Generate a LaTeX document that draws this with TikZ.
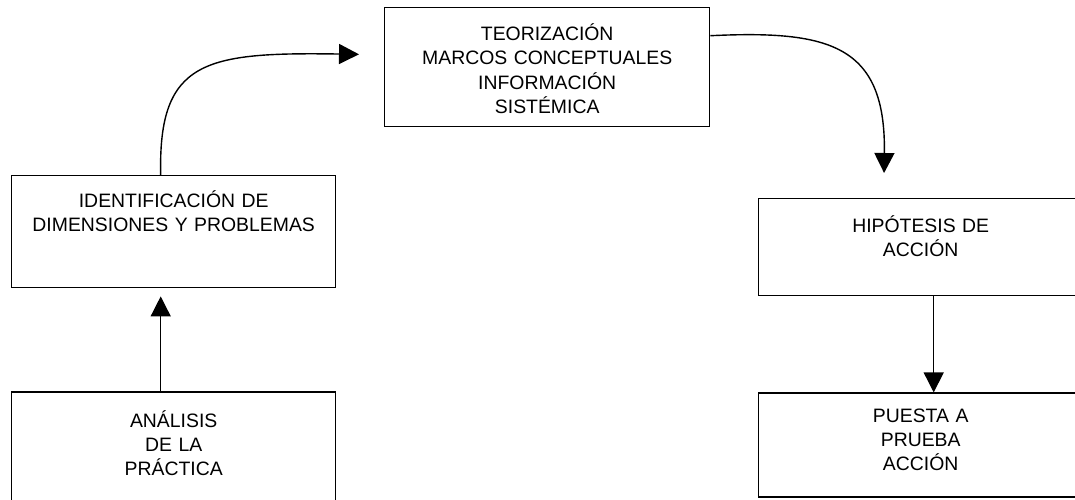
\documentclass[tikz,border=0pt]{standalone}
\usepackage{fontspec}
\setmainfont{Liberation Sans}
\usepackage{tikz}
\usetikzlibrary{arrows.meta,positioning}

\begin{document}
\begin{tikzpicture}[
        x=0.5pt, y=-0.5pt,
        box/.style={draw, line width=0.7pt, inner sep=0pt, align=center,
                    text width=162pt, font=\fontsize{9.7}{12.1}\selectfont,
                    anchor=north west},
        arr/.style={-{Triangle[length=10pt,width=10pt]}, line width=0.7pt},
    ]
        \useasboundingbox (0,0) rectangle (1075,499);
        \clip (0,0) rectangle (1075,499);

        \node[box, text width=162.5pt, text height=16.5pt, text depth=43pt] (teo) at (384,7)
            {TEORIZACIÓN\\MARCOS CONCEPTUALES\\INFORMACIÓN\\SISTÉMICA};
        \node[box, text height=16pt, text depth=40pt] (ide) at (11,175)
            {IDENTIFICACIÓN DE\\DIMENSIONES Y PROBLEMAS};
        \node[box, text height=17.5pt, text depth=42.5pt, below=51.5pt of ide] (ana)
            {ANÁLISIS\\DE LA\\PRÁCTICA};
        \node[box, text height=17pt, text depth=31.5pt] (hip) at (758,198)
            {HIPÓTESIS DE\\ACCIÓN};
        \node[box, text height=14.5pt, text depth=37.5pt, below=48pt of hip] (pue)
            {PUESTA A\\PRUEBA\\ACCIÓN};

        \draw[arr, shorten >=4pt] ([xshift=-6.5pt]ana.north) -- ([xshift=-6.5pt]ide.south);
        \draw[arr, shorten >=12.5pt] ([xshift=-6.5pt]ide.north)
            .. controls (158,60) and (205,52) .. ([yshift=6.25pt]teo.west);
        \draw[arr, shorten >=12.5pt] ([yshift=15.75pt]teo.east)
            .. controls (830,30) and (886,45) .. ([xshift=-18.5pt]hip.north);
        \draw[arr] ([xshift=6.5pt]hip.south) -- ([xshift=6.5pt]pue.north);
    \end{tikzpicture}
\end{document}
